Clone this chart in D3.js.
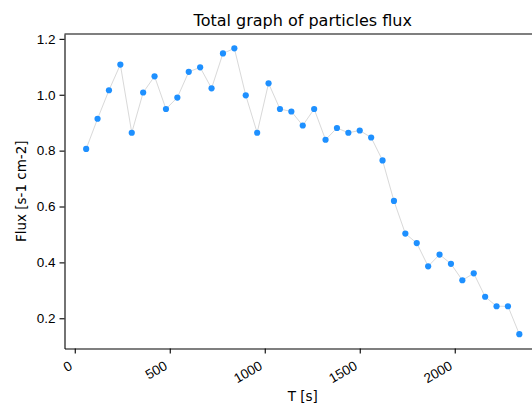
<!DOCTYPE html>
<html>
<head>
<meta charset="utf-8">
<script src="https://cdn.jsdelivr.net/npm/d3@7"></script>
<style>
  html, body { margin: 0; padding: 0; background: #fff; }
  svg { display: block; font-family: "DejaVu Sans", sans-serif; }
  .axis text { font-size: 13.5px; fill: #000; }
  .axis path, .axis line { stroke: #000; stroke-width: 1.1; }
</style>
</head>
<body>
<svg id="chart" width="532" height="408"></svg>
<script>
// time of each measurement [s]
var times = [60, 120, 180, 240, 300, 360, 420, 480, 540, 600,
             660, 720, 780, 840, 900, 960, 1020, 1080, 1140, 1200,
             1260, 1320, 1380, 1440, 1500, 1560, 1620, 1680, 1740, 1800,
             1860, 1920, 1980, 2040, 2100, 2160, 2220, 2280, 2340];

// flux [s-1 cm-2]
var flux = [0.806, 0.914, 1.016, 1.108, 0.864, 1.008, 1.066, 0.949, 0.990, 1.082,
            1.098, 1.023, 1.148, 1.166, 0.998, 0.864, 1.041, 0.949, 0.940, 0.890,
            0.949, 0.839, 0.881, 0.864, 0.872, 0.847, 0.765, 0.620, 0.503, 0.469,
            0.386, 0.428, 0.395, 0.336, 0.361, 0.277, 0.243, 0.243, 0.143];

var xTicks = [0, 500, 1000, 1500, 2000];
var yTicks = [0.2, 0.4, 0.6, 0.8, 1.0, 1.2];

var svg = d3.select("#chart");

// plot box (window.top is reserved, so use other names)
var axLeft = 64.5, axRight = 541, axTop = 34, axBottom = 348.5;

var x = d3.scaleLinear().domain([-54, 2454]).range([axLeft, axRight]);
var y = d3.scaleLinear().domain([0.0918, 1.2174]).range([axBottom, axTop]);

var points = times.map(function (t, i) { return { t: t, f: flux[i] }; });

// connecting line
svg.append("path")
    .datum(points)
    .attr("fill", "none")
    .attr("stroke", "#d9d9d9")
    .attr("stroke-width", 1)
    .attr("d", d3.line()
        .x(function (d) { return x(d.t); })
        .y(function (d) { return y(d.f); }));

// markers
svg.selectAll("circle.pt")
    .data(points)
    .enter().append("circle")
    .attr("class", "pt")
    .attr("cx", function (d) { return x(d.t); })
    .attr("cy", function (d) { return y(d.f); })
    .attr("r", 3.1)
    .attr("fill", "#1e90ff");

// axes
var xAxis = svg.append("g")
    .attr("class", "axis")
    .attr("transform", "translate(0," + axBottom + ")")
    .call(d3.axisBottom(x).tickValues(xTicks).tickSize(5).tickSizeOuter(0)
        .tickFormat(d3.format("d")));

xAxis.selectAll("text")
    .attr("text-anchor", "end")
    .attr("dy", null)
    .attr("y", null)
    .attr("transform", "translate(-2,20) rotate(-30)");

svg.append("g")
    .attr("class", "axis")
    .attr("transform", "translate(" + axLeft + ",0)")
    .call(d3.axisLeft(y).tickValues(yTicks).tickSize(5).tickSizeOuter(0)
        .tickPadding(4).tickFormat(d3.format(".1f")));

// top spine
svg.append("line")
    .attr("x1", axLeft).attr("x2", axRight)
    .attr("y1", axTop).attr("y2", axTop)
    .attr("stroke", "#000").attr("stroke-width", 1.1);

// right spine (falls outside the window)
svg.append("line")
    .attr("x1", axRight).attr("x2", axRight)
    .attr("y1", axTop).attr("y2", axBottom)
    .attr("stroke", "#000").attr("stroke-width", 1.1);

// title and labels
svg.append("text")
    .attr("x", (axLeft + axRight) / 2)
    .attr("y", 26)
    .attr("text-anchor", "middle")
    .style("font-size", "16px")
    .text("Total graph of particles flux");

svg.append("text")
    .attr("x", (axLeft + axRight) / 2)
    .attr("y", 401)
    .attr("text-anchor", "middle")
    .style("font-size", "13.5px")
    .text("T [s]");

svg.append("text")
    .attr("transform", "translate(26," + ((axTop + axBottom) / 2) + ") rotate(-90)")
    .attr("text-anchor", "middle")
    .style("font-size", "13.5px")
    .text("Flux [s-1 cm-2]");
</script>
</body>
</html>
